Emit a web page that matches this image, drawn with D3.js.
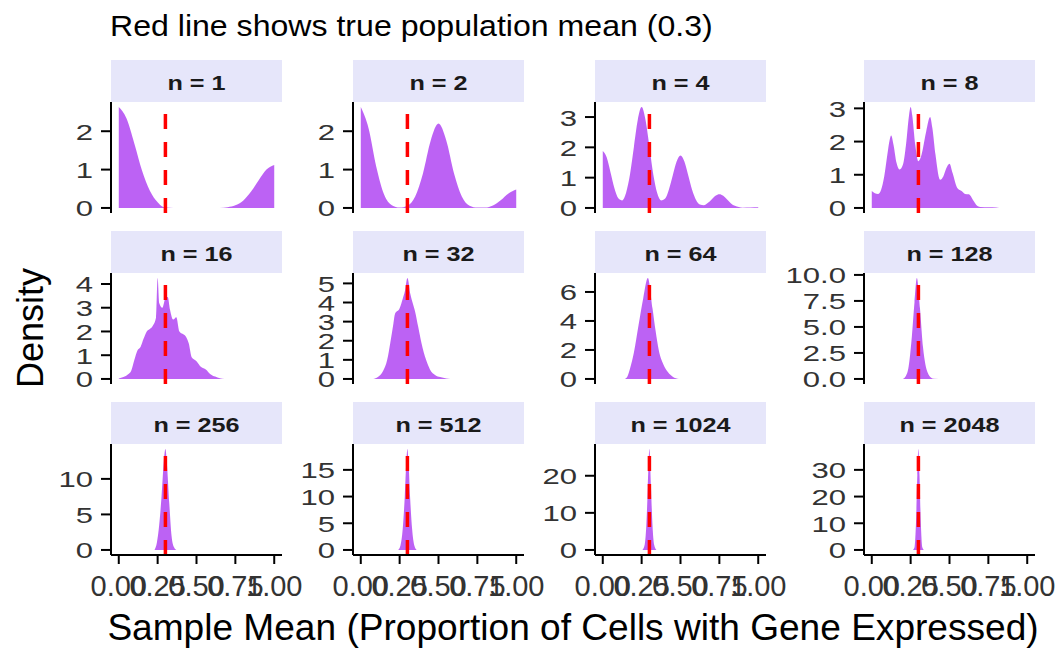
<!DOCTYPE html>
<html><head><meta charset="utf-8">
<script src="https://cdn.jsdelivr.net/npm/d3@7"></script>
<style>html,body{margin:0;padding:0;background:#fff;}svg{display:block;}</style>
</head><body>
<svg id="chart" width="1059" height="648"></svg>
<script>
// ---------------- data ----------------
const panelLabels = ["n = 1","n = 2","n = 4","n = 8","n = 16","n = 32","n = 64","n = 128","n = 256","n = 512","n = 1024","n = 2048"];
const trueMean = 0.3;
const xTicks = [0, 0.25, 0.5, 0.75, 1];
const xTickLabels = ["0.00","0.25","0.50","0.75","1.00"];
const yTicks1 = [0,1,2], yTicks2 = [0,1,2], yTicks4 = [0,1,2,3], yTicks8 = [0,1,2,3];
const yTicks16 = [0,1,2,3,4], yTicks32 = [0,1,2,3,4,5], yTicks64 = [0,2,4,6], yTicks128 = [0,2.5,5,7.5,10];
const yTicks256 = [0,5,10], yTicks512 = [0,5,10,15], yTicks1024 = [0,10,20], yTicks2048 = [0,10,20,30];
const yTickLabels128 = ["0.0","2.5","5.0","7.5","10.0"];

// density curves: [sample mean, density]
const dens1 = [[0,2.63],[0.05,2.33],[0.1,1.68],[0.15,0.97],[0.2,0.45],[0.25,0.15],[0.28,0.04],[0.3,0.01],[0.35,0],[0.65,0],[0.7,0.02],[0.75,0.07],[0.8,0.19],[0.85,0.42],[0.9,0.72],[0.95,1.0],[1,1.12]];
const dens2 = [[0,2.63],[0.05,2.08],[0.1,1.07],[0.15,0.35],[0.2,0.07],[0.25,0.01],[0.3,0.06],[0.35,0.3],[0.4,0.9],[0.45,1.76],[0.5,2.2],[0.55,1.76],[0.6,0.9],[0.65,0.3],[0.7,0.06],[0.75,0.01],[0.8,0.01],[0.85,0.065],[0.9,0.2],[0.95,0.38],[1,0.48]];
const dens4 = [[0,1.88],[0.025,1.67],[0.05,1.17],[0.075,0.65],[0.1,0.32],[0.125,0.25],[0.15,0.5],[0.175,1.1],[0.2,2.0],[0.225,2.9],[0.25,3.33],[0.275,2.9],[0.3,2.02],[0.325,1.1],[0.35,0.49],[0.375,0.25],[0.4,0.3],[0.425,0.6],[0.45,1.07],[0.475,1.53],[0.5,1.73],[0.525,1.53],[0.55,1.07],[0.575,0.59],[0.6,0.26],[0.625,0.11],[0.65,0.09],[0.675,0.16],[0.7,0.28],[0.725,0.4],[0.75,0.45],[0.775,0.4],[0.8,0.28],[0.825,0.15],[0.85,0.07],[0.875,0.03],[0.9,0.01],[0.95,0.015],[1,0.02]];
const dens8 = [[0,0.51],[0.02,0.44],[0.04,0.42],[0.06,0.55],[0.08,0.95],[0.1,1.6],[0.115,2.05],[0.125,2.18],[0.14,1.9],[0.16,1.35],[0.18,1.16],[0.2,1.3],[0.22,1.9],[0.24,2.8],[0.25,3.04],[0.26,2.8],[0.28,1.9],[0.3,1.41],[0.32,1.6],[0.35,2.3],[0.375,2.74],[0.39,2.4],[0.41,1.6],[0.44,0.85],[0.46,0.95],[0.48,1.2],[0.5,1.33],[0.52,1.05],[0.55,0.6],[0.58,0.5],[0.6,0.42],[0.625,0.41],[0.65,0.25],[0.68,0.06],[0.7,0.03],[0.75,0.02],[0.8,0.01],[0.82,0]];
const dens16 = [[0,0.02],[0.03,0.08],[0.06,0.2],[0.08,0.35],[0.1,0.8],[0.12,1.2],[0.14,1.35],[0.16,1.7],[0.18,2.0],[0.2,2.1],[0.22,2.25],[0.24,2.6],[0.25,4.25],[0.26,3.2],[0.28,3.0],[0.3,3.4],[0.315,3.45],[0.33,2.9],[0.35,2.5],[0.37,2.6],[0.39,2.0],[0.41,1.9],[0.43,1.8],[0.45,1.5],[0.47,0.9],[0.5,0.75],[0.53,0.5],[0.56,0.4],[0.59,0.2],[0.62,0.1],[0.65,0.03],[0.68,0]];
const dens32 = [[0.08,0],[0.11,0.1],[0.145,0.44],[0.17,1.0],[0.19,1.9],[0.21,2.9],[0.22,3.4],[0.25,3.7],[0.27,4.2],[0.284,4.6],[0.3,5.28],[0.32,4.4],[0.35,3.5],[0.37,2.7],[0.39,1.9],[0.42,1.0],[0.445,0.5],[0.48,0.2],[0.51,0.1],[0.55,0.03],[0.6,0]];
const dens64 = [[0.143,0],[0.16,0.2],[0.175,0.7],[0.2,1.8],[0.23,3.7],[0.26,5.55],[0.29,6.96],[0.32,4.86],[0.34,3.3],[0.36,2.0],[0.39,1.0],[0.42,0.46],[0.45,0.15],[0.49,0]];
const dens128 = [[0.2,0],[0.22,0.3],[0.235,1.0],[0.255,3.6],[0.275,7.4],[0.29,9.7],[0.31,6.8],[0.33,3.0],[0.345,1.4],[0.36,0.6],[0.38,0.15],[0.4,0.03],[0.46,0]];
const dens256 = [[0.23,0],[0.245,1.0],[0.26,3.5],[0.275,7.5],[0.29,12.5],[0.3,14.2],[0.31,12.0],[0.325,6.5],[0.34,1.9],[0.355,0.4],[0.37,0]];
const dens512 = [[0.24,0],[0.255,0.8],[0.27,4],[0.283,10],[0.293,16.5],[0.3,18.9],[0.307,16.5],[0.317,10],[0.33,4],[0.345,0.8],[0.36,0]];
const dens1024 = [[0.255,0],[0.27,1.5],[0.28,6.5],[0.29,17],[0.3,27.2],[0.31,17],[0.32,6.5],[0.33,1.5],[0.345,0]];
const dens2048 = [[0.265,0],[0.275,1],[0.285,11],[0.293,28],[0.3,37.8],[0.307,28],[0.315,11],[0.325,1],[0.335,0]];

const densities = [dens1,dens2,dens4,dens8,dens16,dens32,dens64,dens128,dens256,dens512,dens1024,dens2048];
const yTicksAll = [yTicks1,yTicks2,yTicks4,yTicks8,yTicks16,yTicks32,yTicks64,yTicks128,yTicks256,yTicks512,yTicks1024,yTicks2048];

// ---------------- layout ----------------
const FONT = "'Liberation Sans', Arial, Helvetica, sans-serif";
const colX = [111, 353, 595, 864];
const rowTop = [102, 273, 444];
const PW = 171, PH = 111, STRIP = 42;

const svg = d3.select("#chart");

function stext(parent, x, y, str, o) {
  const g = parent.append("g").attr("transform", `translate(${x},${y}) scale(${o.sx||1},1)` + (o.rot ? ` rotate(${o.rot})` : ""));
  return g.append("text").attr("x",0).attr("y",0)
    .attr("text-anchor", o.anchor || "start")
    .attr("font-family", FONT).attr("font-size", o.size)
    .attr("font-weight", o.weight || "normal")
    .attr("fill", o.fill || "#000")
    .text(str);
}

densities.forEach((dens, i) => {
  const col = i % 4, row = Math.floor(i / 4);
  const x0 = colX[col], y0 = rowTop[row];
  const M = d3.max(dens, d => d[1]);
  const x = d3.scaleLinear().domain([-0.05, 1.05]).range([x0, x0 + PW]);
  const y = d3.scaleLinear().domain([-0.05 * M, 1.05 * M]).range([y0 + PH, y0]);
  const g = svg.append("g");

  // strip
  g.append("rect").attr("x", x0).attr("y", y0 - STRIP).attr("width", PW).attr("height", STRIP).attr("fill", "#E6E6FA");
  stext(g, x0 + PW / 2, y0 - 12, panelLabels[i], {size: 21, weight: "bold", anchor: "middle", fill: "#1a1a1a", sx: 1.2});

  // density area
  const area = d3.area().x(d => x(d[0])).y0(y(0)).y1(d => y(d[1])).curve(d3.curveMonotoneX);
  g.append("path").datum(dens).attr("d", area).attr("fill", "#A020F0").attr("fill-opacity", 0.7);

  // red dashed mean line
  g.append("line").attr("x1", x(trueMean)).attr("x2", x(trueMean)).attr("y1", y0 + PH).attr("y2", y0)
    .attr("stroke", "#FF0000").attr("stroke-width", 3.5).attr("stroke-dasharray", "15,13");

  // y axis
  g.append("line").attr("x1", x0).attr("x2", x0).attr("y1", y0).attr("y2", y0 + PH).attr("stroke", "#000").attr("stroke-width", 2);
  const yt = yTicksAll[i];
  yt.forEach((t, k) => {
    g.append("line").attr("x1", x0 - 10).attr("x2", x0).attr("y1", y(t)).attr("y2", y(t)).attr("stroke", "#000").attr("stroke-width", 2);
    const lab = (i === 7) ? yTickLabels128[k] : String(t);
    stext(g, x0 - 18, y(t) + 8.5, lab, {size: 22.5, anchor: "end", fill: "#333", sx: 1.38});
  });

  // x axis only on bottom row
  if (row === 2) {
    g.append("line").attr("x1", x0).attr("x2", x0 + PW).attr("y1", y0 + PH).attr("y2", y0 + PH).attr("stroke", "#000").attr("stroke-width", 2);
    xTicks.forEach((t, k) => {
      g.append("line").attr("x1", x(t)).attr("x2", x(t)).attr("y1", y0 + PH).attr("y2", y0 + PH + 9).attr("stroke", "#000").attr("stroke-width", 2);
      stext(g, x(t), y0 + PH + 41, xTickLabels[k], {size: 29, anchor: "middle", fill: "#333", sx: 1.0});
    });
  }
});

// titles
stext(svg, 110, 36, "Red line shows true population mean (0.3)", {size: 30, sx: 1.07});
stext(svg, 573, 640, "Sample Mean (Proportion of Cells with Gene Expressed)", {size: 36, anchor: "middle", sx: 1.03});
stext(svg, 43, 328, "Density", {size: 36, anchor: "middle", rot: -90, sx: 1.0});
</script>
</body></html>
